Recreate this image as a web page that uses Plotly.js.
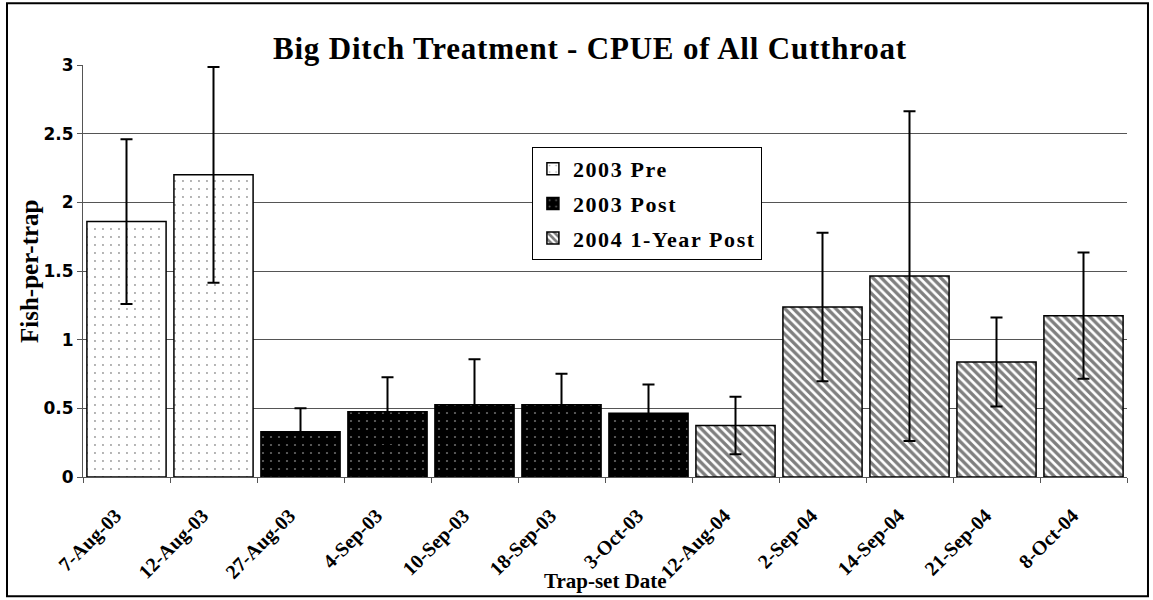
<!DOCTYPE html>
<html>
<head>
<meta charset="utf-8">
<script src="https://cdn.plot.ly/plotly-3.0.1.min.js"></script>
<style>
  html, body { margin: 0; padding: 0; background: #fff; }
  #chart { width: 1153px; height: 600px; }
  .legendtext { letter-spacing: 1.6px; }
  .gtitle { letter-spacing: 0.8px; }
</style>
</head>
<body>
<div id="chart"></div>
<script>
const categories = ['7-Aug-03','12-Aug-03','27-Aug-03','4-Sep-03','10-Sep-03','18-Sep-03','3-Oct-03','12-Aug-04','2-Sep-04','14-Sep-04','21-Sep-04','8-Oct-04'];

const preDates = ['7-Aug-03','12-Aug-03'];
const preValues = [1.86, 2.20];
const preErrors = [0.60, 0.785];

const postDates = ['27-Aug-03','4-Sep-03','10-Sep-03','18-Sep-03','3-Oct-03'];
const postValues = [0.33, 0.476, 0.527, 0.527, 0.464];
const postErrors = [0.17, 0.25, 0.33, 0.225, 0.21];

const y04Dates = ['12-Aug-04','2-Sep-04','14-Sep-04','21-Sep-04','8-Oct-04'];
const y04Values = [0.375, 1.238, 1.463, 0.838, 1.175];
const y04Errors = [0.21, 0.54, 1.2, 0.324, 0.46];

const serif = 'Liberation Serif, Times New Roman, serif';
const sans = 'DejaVu Sans, Arial, sans-serif';

function errY(arr) {
  return { type: 'data', array: arr, visible: true, color: '#000', thickness: 2, width: 6 };
}

const traces = [
  {
    type: 'bar', name: '2003 Pre', x: preDates, y: preValues, legendgroup: 'a',
    marker: { color: '#fff', line: { color: '#000', width: 1.5 },
      pattern: { shape: '.', fgcolor: '#333', bgcolor: '#fff', size: 8, solidity: 0.045, fillmode: 'overlay' } },
    error_y: errY(preErrors)
  },
  {
    type: 'bar', name: '2003 Post', x: postDates, y: postValues, legendgroup: 'b',
    marker: { color: '#000', line: { color: '#000', width: 1.5 },
      pattern: { shape: '.', fgcolor: '#d0d0d0', bgcolor: '#000', size: 8, solidity: 0.06, fillmode: 'overlay' } },
    error_y: errY(postErrors)
  },
  {
    type: 'bar', name: '2004 1-Year Post', x: y04Dates, y: y04Values, legendgroup: 'c',
    marker: { color: '#fff', line: { color: '#000', width: 1.5 },
      pattern: { shape: '\\', fgcolor: '#000', bgcolor: '#fff', size: 6, solidity: 0.55, fillmode: 'overlay' } },
    error_y: errY(y04Errors)
  }
];

const layout = {
  width: 1153, height: 600,
  margin: { l: 83, r: 26, t: 65, b: 122.5, pad: 0 },
  paper_bgcolor: '#fff', plot_bgcolor: '#fff',
  barmode: 'overlay', bargap: 0.09,
  showlegend: true,
  title: { text: 'Big Ditch Treatment - CPUE of All Cutthroat', font: { family: serif, size: 31, color: '#000', weight: 'bold' },
           xref: 'container', x: 0.5117, xanchor: 'center', yref: 'container', y: 0.92, yanchor: 'middle' },
  xaxis: {
    type: 'category', categoryorder: 'array', categoryarray: categories,
    range: [-0.5, 11.5],
    tickangle: -45, tickson: 'boundaries', ticks: 'outside', ticklen: 5, tickcolor: '#555', tickwidth: 1,
    showline: true, linecolor: '#555', linewidth: 1, showgrid: false, zeroline: false,
    tickfont: { family: serif, size: 20, color: '#000', weight: 'bold' },
    ticklabelstandoff: 18, ticklabelshift: -11,
    automargin: false
  },
  yaxis: {
    range: [0, 3], dtick: 0.5, tick0: 0,
    ticks: 'outside', ticklen: 5, tickcolor: '#555', tickwidth: 1,
    showline: true, linecolor: '#555', linewidth: 1,
    showgrid: true, gridcolor: '#555', gridwidth: 1, zeroline: false,
    tickfont: { family: sans, size: 17, color: '#000', weight: 'bold' },
    automargin: false
  },
  annotations: [
    { text: 'Trap-set Date', xref: 'paper', yref: 'paper', x: 0.5, y: (477.5 - 582) / 412.5,
      xanchor: 'center', yanchor: 'middle', showarrow: false,
      font: { family: serif, size: 21, color: '#000', weight: 'bold' } },
    { text: 'Fish-per-trap', xref: 'paper', yref: 'paper', x: (29 - 83) / 1044, y: 0.5, textangle: -90,
      xanchor: 'center', yanchor: 'middle', showarrow: false,
      font: { family: serif, size: 25, color: '#000', weight: 'bold' } }
  ],
  legend: {
    x: 0.43, xanchor: 'left', y: 0.801, yanchor: 'top',
    bgcolor: '#fff', bordercolor: '#000', borderwidth: 1,
    font: { family: serif, size: 22, color: '#000', weight: 'bold' },
    traceorder: 'grouped', tracegroupgap: 3, itemwidth: 30
  },
  shapes: [
    { type: 'rect', xref: 'paper', yref: 'paper', x0: -0.0728, x1: 1.0201, y0: -0.2897, y1: 1.150,
      line: { color: '#000', width: 2 }, fillcolor: 'rgba(0,0,0,0)', layer: 'below' }
  ]
};

Plotly.newPlot('chart', traces, layout, { displayModeBar: false, staticPlot: true });
</script>
</body>
</html>
